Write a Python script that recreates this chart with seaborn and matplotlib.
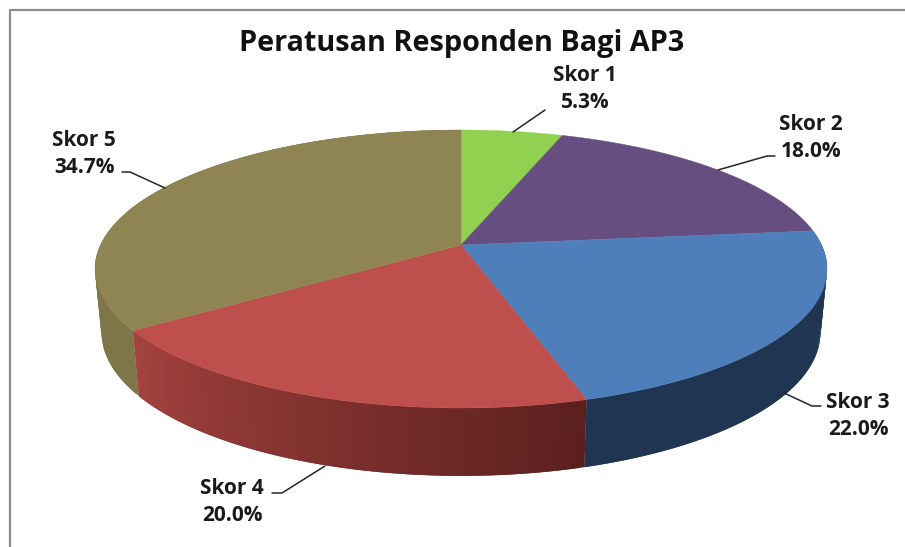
# 3D-look pie: Peratusan Responden Bagi AP3
import numpy as np
import matplotlib
matplotlib.use('Agg')
import matplotlib.pyplot as plt
import seaborn as sns

categories = ['Skor 1', 'Skor 2', 'Skor 3', 'Skor 4', 'Skor 5']
percent = [5.3, 18.0, 22.0, 20.0, 34.7]
title = 'Peratusan Responden Bagi AP3'

top_colors = ['#92D050', '#674E80', '#4F7FBB', '#BF4F4C', '#8F8552']

# wall colour at the start/end of each visible wall
wall_colors = {
    2: ('#1F3552', '#1F3552'),
    3: ('#5A201E', '#A4423F'),
    4: ('#7E7648', '#7E7648'),
}

# label layout, in pixels of the 905x547 picture
label_xy = [(585, 89), (811, 138), (858, 416), (232, 502), (84, 154)]
leaders = [
    [(513, 132), (545, 110)],
    [(718, 170), (767, 156), (775, 156)],
    [(784, 393), (812, 406), (821, 406)],
    [(325, 466), (282, 493), (272, 493)],
    [(165, 188), (130, 172), (122, 172)],
]

sns.set_theme(style='white')
plt.rcParams['font.family'] = ['Open Sans', 'DejaVu Sans']


def rim(deg):
    # circle seen in perspective, angle clockwise from 12 o'clock
    t = np.radians(deg)
    w = 1 + 0.1726 * np.cos(t)
    return 461 + 360.5 * np.sin(t) / w, 245 - 134.85 * np.cos(t) / w


def lower(x, y):
    # same rim on the underside of the disc
    return 461 + (x - 461) * 0.982, 245 + 63 + (y - 245) * 1.03


fig = plt.figure(figsize=(9.05, 5.47), dpi=100)
ax = fig.add_axes([0, 0, 1, 1])
ax.set_xlim(0, 905)
ax.set_ylim(547, 0)
ax.axis('off')

# frame
ax.plot([10, 10, 905], [547, 9.5, 9.5], color='#8C8C8C', lw=1.6, solid_capstyle='butt')

edges = np.concatenate([[0], np.cumsum(percent)]) * 3.6
palette = sns.color_palette(top_colors)

# walls first, the top face covers whatever is behind
for i, (c0, c1) in wall_colors.items():
    n = 120
    steps = np.linspace(edges[i], edges[i + 1], n + 1)
    c0, c1 = np.array(matplotlib.colors.to_rgb(c0)), np.array(matplotlib.colors.to_rgb(c1))
    for k in range(n):
        # flat colour strips; each one overlaps the next so no seams show
        a = np.array([steps[k], steps[min(k + 2, n)]])
        xt, yt = rim(a)
        xb, yb = lower(xt, yt)
        col = c0 + (c1 - c0) * k / (n - 1)
        ax.fill(np.r_[xt, xb[::-1]], np.r_[yt, yb[::-1]], color=col, lw=0, zorder=2)

# top face
for i in range(len(percent)):
    a = np.linspace(edges[i], edges[i + 1], 120)
    xt, yt = rim(a)
    ax.fill(np.r_[461, xt], np.r_[245, yt], color=palette[i], lw=0.3, zorder=3)

# labels
for i, cat in enumerate(categories):
    ax.text(label_xy[i][0], label_xy[i][1], f'{cat}\n{percent[i]:.1f}%', ha='center', va='center',
            fontsize=15, fontweight='bold', color='#1A1A1A', linespacing=1.38, zorder=5)
    pts = np.array(leaders[i])
    ax.plot(pts[:, 0], pts[:, 1], color='#262626', lw=1.1, zorder=4)

ax.text(462, 43, title, ha='center', va='center', fontsize=20.8, fontweight='bold', color='#111111')

fig.savefig('out.png', dpi=100)
